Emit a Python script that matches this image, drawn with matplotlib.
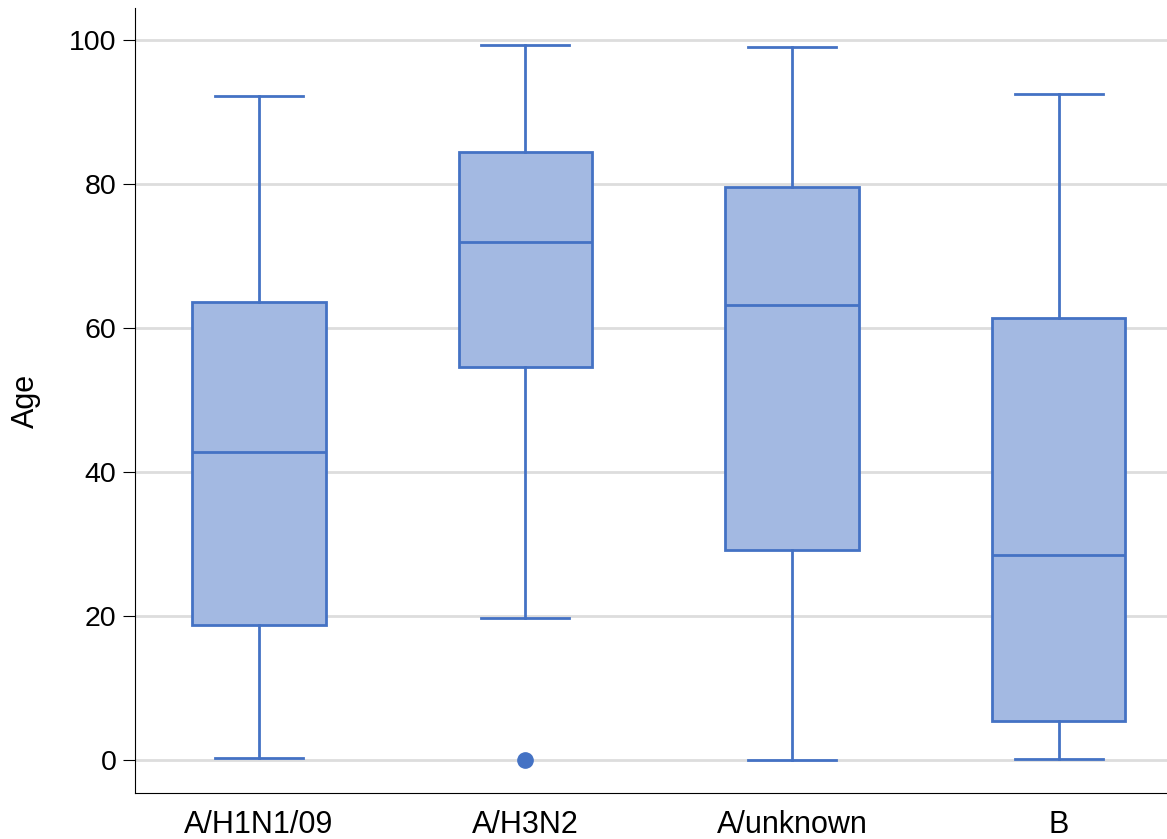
import matplotlib
matplotlib.use('Agg')
import matplotlib.pyplot as plt

plt.rcParams['font.family'] = ['Liberation Sans', 'DejaVu Sans']

categories = ['A/H1N1/09', 'A/H3N2', 'A/unknown', 'B']
whisker_low = [0.2, 19.7, 0.0, 0.1]
q1 = [18.7, 54.6, 29.2, 5.4]
median = [42.8, 71.9, 63.2, 28.5]
q3 = [63.6, 84.4, 79.6, 61.3]
whisker_high = [92.2, 99.3, 99.0, 92.5]
outliers = [[], [0.0], [], []]

EDGE = '#4472c4'
FILL = '#a3b9e2'


def build_stats():
    stats = []
    for i, name in enumerate(categories):
        stats.append({
            'label': name,
            'whislo': whisker_low[i],
            'q1': q1[i],
            'med': median[i],
            'q3': q3[i],
            'whishi': whisker_high[i],
            'fliers': outliers[i],
        })
    return stats


def main():
    fig = plt.figure(figsize=(11.67, 8.39), dpi=100)
    ax = fig.add_axes([135 / 1167, 1 - 793 / 839, 1 - 135 / 1167, (793 - 8) / 839])

    line = dict(color=EDGE, linewidth=2)
    ax.bxp(build_stats(), positions=range(len(categories)), widths=0.5,
           capwidths=0.33, patch_artist=True,
           boxprops=dict(facecolor=FILL, edgecolor=EDGE, linewidth=2),
           medianprops=line, whiskerprops=line, capprops=line,
           flierprops=dict(marker='o', markerfacecolor=EDGE, markeredgecolor=EDGE,
                           markersize=11))

    ax.set_xlim(-0.465, 3.407)
    ax.set_ylim(-4.6, 104.4)
    ax.set_yticks([0, 20, 40, 60, 80, 100])
    ax.yaxis.grid(True, color='#dddddd', linewidth=2)
    ax.set_axisbelow(True)
    ax.spines['top'].set_visible(False)
    ax.spines['right'].set_visible(False)
    ax.tick_params(axis='x', length=0, labelsize=22, pad=12)
    ax.tick_params(axis='y', length=9, labelsize=20.5, pad=4.5)
    ax.set_ylabel('Age', fontsize=22, labelpad=20)

    fig.savefig('out.png', dpi=100)


if __name__ == '__main__':
    main()
